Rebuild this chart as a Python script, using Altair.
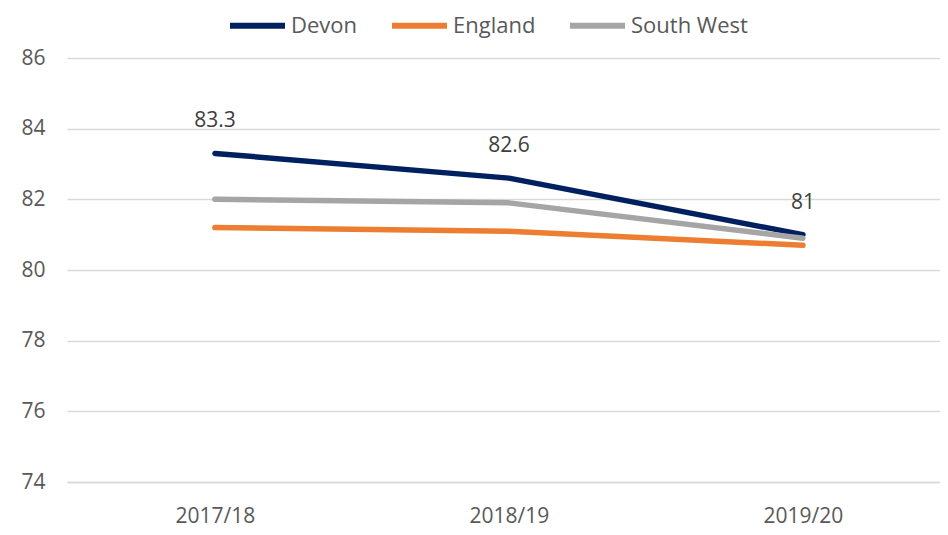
import altair as alt
import pandas as pd

years = ["2017/18", "2018/19", "2019/20"]
devon = [83.3, 82.6, 81.0]
england = [81.2, 81.1, 80.7]
south_west = [82.0, 81.9, 80.9]
series_names = ["Devon", "England", "South West"]
colors = ["#002060", "#ED7D31", "#A5A5A5"]
y_ticks = [74, 76, 78, 80, 82, 84, 86]

rows = []
for name, vals in zip(series_names, [devon, england, south_west]):
    for yr, v in zip(years, vals):
        rows.append({"Year": yr, "Area": name, "Value": v})
df = pd.DataFrame(rows)

FONT = "Open Sans"

x = alt.X("Year:N", sort=years, title=None,
          scale=alt.Scale(type="point", padding=0.4847, align=0.519),
          axis=alt.Axis(labelAngle=0, labelFontSize=21, labelColor="#595959",
                        labelFont=FONT, ticks=False, domainColor="#d9d9d9",
                        domainWidth=1.5, labelPadding=23, grid=False))
y = alt.Y("Value:Q", title=None,
          scale=alt.Scale(domain=[74, 86], nice=False, zero=False),
          axis=alt.Axis(values=y_ticks, labelFontSize=21, labelColor="#595959",
                        labelFont=FONT, ticks=False, domain=False,
                        gridColor="#d9d9d9", gridWidth=1.5, labelPadding=22))

lines = alt.Chart(df).mark_line(strokeWidth=5.5, strokeCap="round", strokeJoin="round").encode(
    x=x, y=y,
    color=alt.Color("Area:N", sort=series_names,
                    scale=alt.Scale(domain=series_names, range=colors),
                    legend=alt.Legend(title=None, orient="none", direction="horizontal",
                                      legendX=160, legendY=-63,
                                      symbolType="stroke", symbolSize=3025,
                                      symbolStrokeWidth=6, labelFontSize=22,
                                      labelFont=FONT, labelColor="#595959",
                                      columnPadding=22, labelOffset=3)),
)

labels = alt.Chart(df[df["Area"] == "Devon"]).mark_text(
    dy=-32, fontSize=21, font=FONT, color="#404040", baseline="middle"
).encode(x=x, y=y, text=alt.Text("Value:Q", format="~g"))

chart = (lines + labels).properties(
    width=873, height=424,
    autosize=alt.AutoSizeParams(type="none"),
    padding={"left": 59, "top": 50, "right": 0, "bottom": 45},
).configure_view(stroke=None)

chart.save("out.html", embed_options={"renderer": "svg", "actions": False})
